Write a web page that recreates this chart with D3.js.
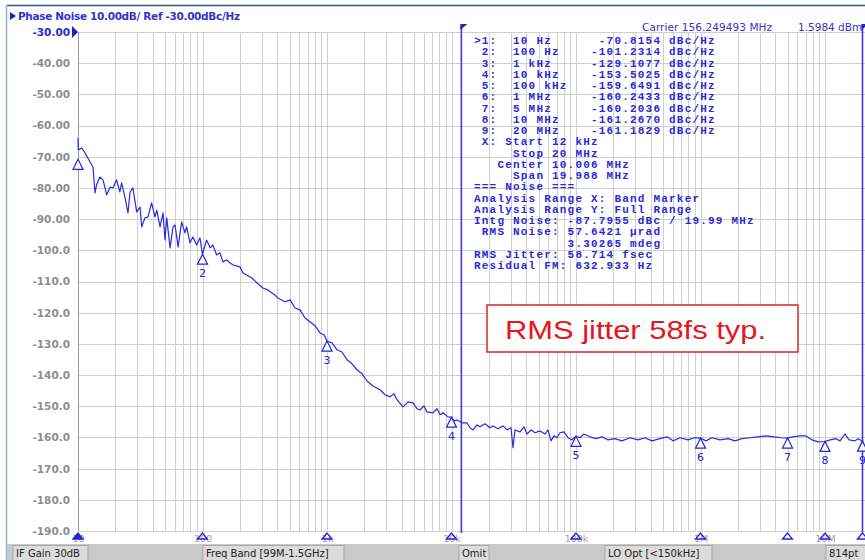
<!DOCTYPE html>

<html lang="en">
  <head>
    <meta charset="utf-8" />
    <style>
      body {
        margin: 0;
        background: #fff;
      }
      #chart {
        display: block;
      }
    </style>
  </head>
  <body>
    <svg id="chart" width="865" height="560"></svg>
    <script src="https://d3js.org/d3.v7.min.js"></script>
    <script>
      // trace (offset Hz, dBc/Hz)
      const traceFreq = [
        10, 10.06, 10.7, 11.4, 12.5, 13.2, 13.7, 14.1, 15.0, 15.9, 17.0, 18.1,
        19.1, 20.4, 21.7, 22.4, 23.8, 25.2, 26.2, 27.6, 29.6, 31.5, 32.5, 34.5,
        36.5, 39.0, 41.5, 42.9, 45.6, 48.2, 50.0, 51.6, 54.9, 58.0, 60.2, 63.7,
        68.0, 72.3, 74.6, 79.3, 83.7, 89.7, 95.4, 100, 107.9, 115, 121, 130,
        138, 146, 156, 166, 176, 200, 211, 226, 248, 273, 305, 335, 381, 403,
        460, 505, 553, 607, 666, 730, 801, 879, 946, 1000, 1097, 1203, 1319,
        1448, 1588, 1742, 1910, 2096, 2339, 2665, 2923, 3206, 3452, 3648, 4077,
        4477, 4910, 5287, 5585, 6010, 6350, 7100, 7640, 8090, 8550, 9370,
        10000, 10480, 11070, 12130, 13310, 14080, 14890, 16030, 16940, 18580,
        20380, 21550, 23620, 25940, 27930, 30060, 31190, 32360, 35480, 38210,
        40360, 43550, 46880, 51400, 56370, 59570, 62950, 66530, 70310, 74300,
        80100, 86300, 92900, 100000, 107700, 115900, 129500, 144800, 161800,
        180700, 205600, 233900, 271600, 314800, 358100, 407400, 473200, 538300,
        601200, 683900, 794300, 887100, 1e6, 1107000, 1236000, 1435000,
        1663000, 1892000, 2153000, 2500000, 2897000, 3357000, 3890000, 4433000,
        4955000, 5534000, 6295000, 7031000, 7870000, 8790000, 1e7, 10970000,
        12250000, 13190000, 14480000, 15590000, 17420000, 18410000, 2e7
      ];
      const traceDbc = [
        -64.0, -67.8, -67.2, -68.8, -71.7, -73.3, -81.6, -79.0, -76.5, -77.4,
        -82.2, -79.7, -80.0, -77.4, -81.3, -78.4, -82.9, -88.0, -81.3, -80.0,
        -87.7, -86.1, -92.5, -89.6, -89.3, -84.8, -89.3, -87.1, -92.5, -88.0,
        -96.7, -89.6, -99.2, -92.5, -91.9, -98.9, -90.9, -94.4, -92.5, -97.6,
        -95.7, -98.3, -96.0, -101.2, -96.7, -99.2, -98.3, -101.5, -100.8,
        -103.7, -103.1, -104.0, -104.7, -105.3, -107.2, -107.9, -108.8, -110.4,
        -112.1, -112.7, -114.3, -115.3, -116.5, -115.9, -118.5, -119.1, -121.7,
        -122.9, -124.2, -126.5, -127.1, -129.1, -129.7, -131.9, -132.6, -135.1,
        -136.4, -138.3, -139.6, -141.9, -143.5, -144.7, -146.3, -147.0, -146.0,
        -147.9, -150.2, -148.6, -148.9, -150.8, -151.2, -149.9, -151.8, -152.1,
        -150.8, -152.7, -152.1, -153.4, -153.5, -154.7, -154.4, -155.3, -155.3,
        -156.9, -157.6, -156.0, -156.6, -155.6, -156.9, -156.3, -157.2, -156.3,
        -157.6, -156.9, -163.3, -157.6, -158.2, -156.6, -158.9, -157.6, -158.5,
        -157.9, -158.9, -157.6, -161.1, -159.5, -160.1, -158.5, -158.2, -160.1,
        -160.8, -159.6, -160.1, -158.9, -159.8, -160.4, -159.8, -160.8, -160.4,
        -161.1, -160.1, -160.8, -160.1, -161.1, -160.4, -159.8, -161.1, -160.1,
        -160.8, -160.1, -160.2, -161.1, -160.1, -160.8, -160.4, -161.1, -160.4,
        -160.1, -159.8, -159.5, -159.8, -160.1, -160.2, -159.8, -159.5, -159.5,
        -160.8, -161.4, -161.3, -160.8, -160.4, -161.1, -158.9, -160.8, -161.1,
        -160.4, -161.2
      ];

      const markerIds = [1, 2, 3, 4, 5, 6, 7, 8, 9];
      const markerFreq = [10, 100, 1e3, 1e4, 1e5, 1e6, 5e6, 1e7, 2e7];
      const markerDbc = [
        -70.8154, -101.2314, -129.1077, -153.5025, -159.6491, -160.2433,
        -160.2036, -161.267, -161.1829
      ];
      const bandStart = 12e3;
      const bandStop = 20e6;

      const yTicks = d3.range(-30, -191, -10);
      const xDecades = [10, 100, 1e3, 1e4, 1e5, 1e6, 1e7];
      const xTickLabels = ["10", "100", "1k", "10k", "100k", "1M", "10M"];

      const tableLines = [
        ">1:  10 Hz      -70.8154 dBc/Hz",
        " 2:  100 Hz    -101.2314 dBc/Hz",
        " 3:  1 kHz     -129.1077 dBc/Hz",
        " 4:  10 kHz    -153.5025 dBc/Hz",
        " 5:  100 kHz   -159.6491 dBc/Hz",
        " 6:  1 MHz     -160.2433 dBc/Hz",
        " 7:  5 MHz     -160.2036 dBc/Hz",
        " 8:  10 MHz    -161.2670 dBc/Hz",
        " 9:  20 MHz    -161.1829 dBc/Hz",
        " X: Start 12 kHz",
        "     Stop 20 MHz",
        "   Center 10.006 MHz",
        "     Span 19.988 MHz",
        "=== Noise ===",
        "Analysis Range X: Band Marker",
        "Analysis Range Y: Full Range",
        "Intg Noise: -87.7955 dBc / 19.99 MHz",
        " RMS Noise: 57.6421 \u00b5rad",
        "            3.30265 mdeg",
        "RMS Jitter: 58.714 fsec",
        "Residual FM: 632.933 Hz"
      ];

      const statusCells = [
        { text: "IF Gain 30dB", x0: 13, x1: 88 },
        { text: "Freq Band [99M-1.5GHz]", x0: 203, x1: 344 },
        { text: "Omit", x0: 459, x1: 489 },
        { text: "LO Opt [<150kHz]", x0: 605, x1: 712 },
        { text: "814pt", x0: 826, x1: 870 }
      ];

      const blue = "#2424dc";
      const plotLeft = 78;
      const plotTop = 32;
      const plotBottom = 531;
      const decade = 124.5;

      const x = d3
        .scaleLog()
        .domain([10, 2e7])
        .range([plotLeft, plotLeft + decade * Math.log10(2e6)]);
      const y = d3
        .scaleLinear()
        .domain([-190, -30])
        .range([plotBottom, plotTop]);

      const svg = d3.select("#chart");

      // outer window frame
      svg
        .append("line")
        .attr("x1", 7)
        .attr("x2", 865)
        .attr("y1", 5.5)
        .attr("y2", 5.5)
        .attr("stroke", "#2c5b86")
        .attr("stroke-width", 1.5);
      svg
        .append("line")
        .attr("x1", 6.5)
        .attr("x2", 6.5)
        .attr("y1", 5)
        .attr("y2", 560)
        .attr("stroke", "#8fb4d8")
        .attr("stroke-width", 1.5);

      // plot area
      svg
        .append("rect")
        .attr("x", plotLeft)
        .attr("y", plotTop)
        .attr("width", 865 - plotLeft)
        .attr("height", plotBottom - plotTop)
        .attr("fill", "#fff");

      const gridFreqs = [];
      xDecades.forEach(d => {
        for (let m = 1; m <= 9; m++) {
          if (d * m <= 2e7) gridFreqs.push(d * m);
        }
      });
      gridFreqs.push(2e7);

      svg
        .append("g")
        .attr("stroke", "#cfcfcf")
        .attr("stroke-width", 1)
        .selectAll("line")
        .data(gridFreqs)
        .join("line")
        .attr("x1", d => Math.round(x(d)) + 0.5)
        .attr("x2", d => Math.round(x(d)) + 0.5)
        .attr("y1", plotTop)
        .attr("y2", plotBottom);

      svg
        .append("g")
        .attr("stroke", "#cfcfcf")
        .attr("stroke-width", 1)
        .selectAll("line")
        .data(yTicks)
        .join("line")
        .attr("x1", plotLeft)
        .attr("x2", 865)
        .attr("y1", d => Math.round(y(d)) + 0.5)
        .attr("y2", d => Math.round(y(d)) + 0.5);

      svg
        .append("line")
        .attr("x1", plotLeft + 0.5)
        .attr("x2", plotLeft + 0.5)
        .attr("y1", plotTop)
        .attr("y2", plotBottom)
        .attr("stroke", "#9a9a9a");

      // y axis labels
      const yAxis = d3
        .axisLeft(y)
        .tickValues(yTicks)
        .tickSize(0)
        .tickPadding(8)
        .tickFormat(d => (d > -100 ? d.toFixed(2) : d.toFixed(1)));
      const yg = svg
        .append("g")
        .attr("transform", `translate(${plotLeft},0)`)
        .call(yAxis);
      yg.select(".domain").remove();
      yg.selectAll("text")
        .attr("font-family", "DejaVu Sans, sans-serif")
        .attr("font-size", 10.5)
        .attr("font-weight", "bold")
        .attr("fill", d => (d === -30 ? "#2a2ad0" : "#8d8d8d"));

      svg
        .append("path")
        .attr("d", `M${plotLeft - 6},${plotTop - 6}L${plotLeft},${plotTop}L${plotLeft - 6},${plotTop + 6}Z`)
        .attr("fill", "#1c1cc8");

      // x axis labels
      const xAxis = d3
        .axisBottom(x)
        .tickValues(xDecades)
        .tickSize(0)
        .tickPadding(4)
        .tickFormat((d, i) => xTickLabels[i]);
      const xg = svg
        .append("g")
        .attr("transform", `translate(0,${plotBottom})`)
        .call(xAxis);
      xg.select(".domain").remove();
      xg.selectAll("text")
        .attr("font-family", "DejaVu Sans, sans-serif")
        .attr("font-size", 9.5)
        .attr("fill", "#a0a0a0");

      // marker indicators under the axis
      svg
        .append("g")
        .selectAll("path")
        .data(markerFreq)
        .join("path")
        .attr("d", d => {
          const cx = x(d);
          return `M${cx - 5},${plotBottom + 8}L${cx},${plotBottom + 2}L${cx + 5},${plotBottom + 8}Z`;
        })
        .attr("fill", (d, i) => (i === 0 ? blue : "none"))
        .attr("stroke", blue)
        .attr("stroke-width", 1.3);

      // band marker lines
      [bandStart, bandStop].forEach(f => {
        const bx = x(f);
        svg
          .append("line")
          .attr("x1", bx)
          .attr("x2", bx)
          .attr("y1", 25)
          .attr("y2", plotBottom + 2)
          .attr("stroke", "#3a3ae6")
          .attr("stroke-width", 1.6);
        svg
          .append("path")
          .attr("d", `M${bx - 1},24L${bx + 6},24L${bx - 1},30Z`)
          .attr("fill", "#2020d0");
      });

      // trace
      const trace = traceFreq.map((f, i) => ({ f: f, v: traceDbc[i] }));
      const line = d3
        .line()
        .x(d => x(d.f))
        .y(d => y(d.v));
      svg
        .append("path")
        .datum(trace)
        .attr("d", line)
        .attr("fill", "none")
        .attr("stroke", "#2a2ae0")
        .attr("stroke-width", 1.2)
        .attr("stroke-linejoin", "round");

      // trace markers
      const markers = markerIds.map((id, i) => ({
        id: id,
        f: markerFreq[i],
        v: markerDbc[i]
      }));
      const mk = svg
        .append("g")
        .selectAll("g")
        .data(markers)
        .join("g")
        .attr("transform", d => `translate(${x(d.f)},${y(d.v)})`);
      mk.append("path")
        .attr("d", "M0,0L-5,10L5,10Z")
        .attr("fill", "#fff")
        .attr("stroke", blue)
        .attr("stroke-width", 1.2);
      mk.filter(d => d.id > 1)
        .append("text")
        .attr("y", 23)
        .attr("text-anchor", "middle")
        .attr("font-family", "DejaVu Sans, sans-serif")
        .attr("font-size", 11)
        .attr("fill", blue)
        .text(d => d.id);

      // marker table
      svg
        .append("g")
        .attr("font-family", "Liberation Mono, monospace")
        .attr("font-size", 11)
        .attr("font-weight", "bold")
        .attr("letter-spacing", 1.2)
        .attr("fill", "#2a2ad8")
        .selectAll("text")
        .data(tableLines)
        .join("text")
        .attr("x", 474)
        .attr("y", (d, i) => 44 + i * 11.25)
        .attr("xml:space", "preserve")
        .style("white-space", "pre")
        .text(d => d);

      // header texts
      svg
        .append("path")
        .attr("d", "M10,12L16,16L10,20Z")
        .attr("fill", "#1c1cc8");
      svg
        .append("text")
        .attr("x", 18)
        .attr("y", 20)
        .attr("font-family", "DejaVu Sans, sans-serif")
        .attr("font-size", 10.5)
        .attr("font-weight", "bold")
        .attr("fill", "#3434c8")
        .attr("textLength", 222)
        .text("Phase Noise 10.00dB/ Ref -30.00dBc/Hz");
      svg
        .append("text")
        .attr("x", 642)
        .attr("y", 31)
        .attr("font-family", "DejaVu Sans, sans-serif")
        .attr("font-size", 10.5)
        .attr("fill", "#3434c8")
        .attr("textLength", 130)
        .text("Carrier 156.249493 MHz");
      svg
        .append("text")
        .attr("x", 798)
        .attr("y", 31)
        .attr("font-family", "DejaVu Sans, sans-serif")
        .attr("font-size", 10.5)
        .attr("fill", "#3434c8")
        .text("1.5984 dBm");

      // annotation box
      svg
        .append("rect")
        .attr("x", 487)
        .attr("y", 305)
        .attr("width", 311)
        .attr("height", 47)
        .attr("fill", "#fff")
        .attr("stroke", "#e0202a")
        .attr("stroke-width", 1.5);
      svg
        .append("text")
        .attr("x", 505)
        .attr("y", 339)
        .attr("font-family", "Liberation Sans, Arial, sans-serif")
        .attr("font-size", 25)
        .attr("textLength", 261)
        .attr("lengthAdjust", "spacingAndGlyphs")
        .attr("fill", "#e8141e")
        .text("RMS jitter 58fs typ.");

      // status bar
      svg
        .append("rect")
        .attr("x", 7)
        .attr("y", 544)
        .attr("width", 858)
        .attr("height", 16)
        .attr("fill", "#c9c9c9");
      const cell = svg
        .append("g")
        .selectAll("g")
        .data(statusCells)
        .join("g");
      cell
        .append("rect")
        .attr("x", d => d.x0)
        .attr("y", 545.5)
        .attr("width", d => d.x1 - d.x0)
        .attr("height", 15)
        .attr("fill", "#dcdcdc")
        .attr("stroke", "#a8a8a8");
      cell
        .append("text")
        .attr("x", d => d.x0 + 3)
        .attr("y", 557)
        .attr("font-family", "DejaVu Sans, sans-serif")
        .attr("font-size", 10)
        .attr("fill", "#222")
        .text(d => d.text);
    </script>
  </body>
</html>
